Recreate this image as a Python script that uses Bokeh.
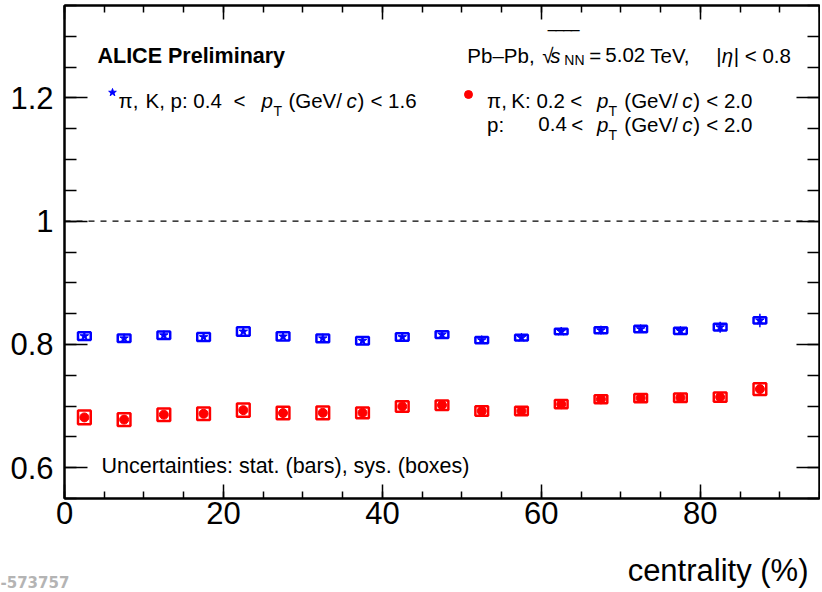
from bokeh.plotting import figure
from bokeh.models import (ColumnDataSource, Range1d, LinearAxis, FixedTicker, Span,
                          Label, Legend, LegendItem, Title)
from bokeh.embed import file_html
from bokeh.resources import INLINE

# ---------------- data ----------------
centrality = [2.5, 7.5, 12.5, 17.5, 22.5, 27.5, 32.5, 37.5, 42.5,
              47.5, 52.5, 57.5, 62.5, 67.5, 72.5, 77.5, 82.5, 87.5]

# pi, K, p : 0.4 < pT < 1.6
ratio_blue = [0.8135, 0.810, 0.815, 0.812, 0.821, 0.813, 0.810, 0.806, 0.812,
              0.816, 0.807, 0.811, 0.821, 0.823, 0.825, 0.822, 0.828, 0.839]
stat_blue = [0.002, 0.002, 0.002, 0.002, 0.002, 0.002, 0.002, 0.002, 0.003,
             0.003, 0.003, 0.003, 0.004, 0.007, 0.005, 0.005, 0.009, 0.011]
sys_blue = [0.0061, 0.0061, 0.0061, 0.0066, 0.0068, 0.0066, 0.0063, 0.0061, 0.0061,
            0.0055, 0.0050, 0.0047, 0.0045, 0.0050, 0.0052, 0.0050, 0.0055, 0.0050]

# pi, K : 0.2 < pT < 2.0 ; p : 0.4 < pT < 2.0
ratio_red = [0.6816, 0.678, 0.686, 0.6875, 0.6934, 0.6886, 0.689, 0.689, 0.6994,
             0.7015, 0.692, 0.692, 0.703, 0.711, 0.713, 0.7134, 0.7145, 0.7275]
stat_red = [0.003] * 18
sys_red = [0.0110, 0.0102, 0.0102, 0.0102, 0.0107, 0.0102, 0.0102, 0.0086, 0.0086,
           0.0077, 0.0077, 0.0069, 0.0067, 0.0064, 0.0067, 0.0069, 0.0077, 0.0096]

x_major_ticks = [0, 20, 40, 60, 80]
x_minor_ticks = [5 * i for i in range(20)]
y_major_ticks = [0.6, 0.8, 1, 1.2]
y_tick_labels = {0.6: "0.6", 0.8: "0.8", 1: "1", 1.2: "1.2"}
y_minor_ticks = [round(0.55 + 0.05 * i, 2) for i in range(17)]

BLUE = "#0000ff"
RED = "#ff0000"
FONT = "Liberation Sans"
BOX_W = 1.6

# ---------------- figure ----------------
W, H = 820, 590
BL, BR, BT, BB = 64, 1, 5, 92
X0, X1, Y0, Y1 = 0, 95, 0.55, 1.35

p = figure(width=W, height=H, x_range=Range1d(X0, X1), y_range=Range1d(Y0, Y1),
           output_backend="svg", toolbar_location=None,
           min_border_left=BL, min_border_right=BR, min_border_top=BT, min_border_bottom=BB,
           background_fill_color="white", border_fill_color="white")
p.xgrid.grid_line_color = None
p.ygrid.grid_line_color = None
p.outline_line_color = "black"
p.outline_line_width = 2

bottom_ax = p.below[0]
left_ax = p.left[0]
top_ax = LinearAxis()
right_ax = LinearAxis()
p.add_layout(top_ax, "above")
p.add_layout(right_ax, "right")

xt = FixedTicker(ticks=x_major_ticks, minor_ticks=x_minor_ticks)
yt = FixedTicker(ticks=y_major_ticks, minor_ticks=y_minor_ticks)


def style_axis(ax, ticker, major_in, minor_in, labels):
    ax.ticker = ticker
    ax.axis_line_color = "black"
    ax.axis_line_width = 2
    ax.major_tick_in = major_in
    ax.major_tick_out = 0
    ax.minor_tick_in = minor_in
    ax.minor_tick_out = 0
    ax.major_tick_line_color = "black"
    ax.minor_tick_line_color = "black"
    ax.major_tick_line_width = 1.5
    ax.minor_tick_line_width = 1.5
    if labels:
        ax.major_label_text_font = FONT
        ax.major_label_text_font_size = "31px"
        ax.major_label_text_color = "black"
    else:
        ax.major_label_text_font_size = "0px"
        ax.major_label_standoff = 0


style_axis(bottom_ax, xt, 14, 7, True)
style_axis(top_ax, xt, 14, 7, False)
style_axis(left_ax, yt, 23, 12, True)
style_axis(right_ax, yt, 23, 12, False)
bottom_ax.major_label_standoff = 3
left_ax.major_label_standoff = 11
left_ax.major_label_overrides = y_tick_labels
# blank spacer label that pushes the axis title band down
bottom_ax.axis_label = " "
bottom_ax.axis_label_text_font_size = "15px"
bottom_ax.axis_label_standoff = 4

# x-axis title (right aligned) and the watermark fragment in the same band
p.add_layout(Title(text="centrality (%)", align="right", offset=11, vertical_align="bottom",
                   text_font=FONT, text_font_size="31px", text_font_style="normal",
                   text_color="black", standoff=0), "below")
p.add_layout(Title(text="-573757", align="left", offset=-64, vertical_align="top",
                   text_font="DejaVu Sans", text_font_size="15px", text_font_style="bold",
                   text_color="#b4b4b4", standoff=-24), "below")

p.add_layout(Span(location=1, dimension="width", line_color="black",
                  line_dash="6 6", line_width=1.3))

# ---------------- data glyphs ----------------
def series(vals, stat, sys_):
    return ColumnDataSource(dict(
        x=centrality, y=vals,
        lo=[v - s for v, s in zip(vals, stat)],
        hi=[v + s for v, s in zip(vals, stat)],
        h=[2 * s for s in sys_]))


sb = series(ratio_blue, stat_blue, sys_blue)
sr = series(ratio_red, stat_red, sys_red)

p.rect(x="x", y="y", width=BOX_W, height="h", source=sb, fill_color=None,
       line_color=BLUE, line_width=2.5)
p.segment(x0="x", y0="lo", x1="x", y1="hi", source=sb, line_color=BLUE, line_width=1.5)
blue_pts = p.scatter(x="x", y="y", source=sb, marker="star", size=9,
                     fill_color=BLUE, line_color=BLUE)

p.rect(x="x", y="y", width=BOX_W, height="h", source=sr, fill_color=None,
       line_color=RED, line_width=2.5)
p.segment(x0="x", y0="lo", x1="x", y1="hi", source=sr, line_color=RED, line_width=1.5)
red_pts = p.scatter(x="x", y="y", source=sr, marker="circle", size=9,
                    fill_color=RED, line_color=RED)

# ---------------- legends (marker symbols) ----------------
FW = W - BL - BR
FH = H - BT - BB
G = 20  # legend glyph box -> marker size 0.4*G


def to_screen(x, y):
    return ((x - X0) / (X1 - X0) * FW, (y - Y0) / (Y1 - Y0) * FH)


def add_marker_legend(renderer, anchor):
    sx, sy = to_screen(*anchor)
    leg = Legend(items=[LegendItem(label=" ", renderers=[renderer])],
                 location=(sx - G / 2, sy - G / 2), padding=0, margin=0, spacing=0,
                 glyph_width=G, glyph_height=G, label_width=0, label_height=G,
                 label_standoff=0, label_text_font_size="1px",
                 background_fill_alpha=0, border_line_color=None)
    p.add_layout(leg)


add_marker_legend(blue_pts, (6.04, 1.209))
add_marker_legend(red_pts, (50.8, 1.205))

# ---------------- texts ----------------
def X(px):
    """reference-picture pixel column -> centrality units"""
    return (px - 64) / 7.95


def txt(x, y, s, size=21.5, style="normal", color="black", font=FONT, align="left"):
    p.add_layout(Label(x=x, y=y, text=s, text_font=font, text_font_size=f"{size}px",
                       text_font_style=style, text_color=color,
                       text_align=align, text_baseline="alphabetic"))


txt(X(97), 1.2685, "ALICE Preliminary", style="bold")

# Pb-Pb line
TY = 1.2693
TS = 20.5
txt(X(467), TY, "Pb\u2013Pb,", size=TS)
txt(X(542), TY, "\u221a", size=TS)
txt(X(548), 1.292, "\u203e\u203e\u203e\u203e", size=23)
txt(X(550), TY, "s", size=TS, style="italic")
txt(X(564), 1.2612, "NN", size=14)
txt(X(589), TY, "=", size=TS)
txt(X(605), TY, "5.02", size=TS)
txt(X(650), TY, "TeV,", size=TS)
txt(X(716), TY, "|", size=TS)
txt(X(721.5), TY, "\u03b7", size=TS, style="italic")
txt(X(733.5), TY, "| < 0.8", size=TS)

LS = 20.5  # legend text size
# blue legend text
BY, BYS = 1.1951, 1.1789
txt(X(118), BY, "\u03c0,", size=LS)
txt(X(145), BY, "K, p: 0.4", size=LS)
txt(X(233), BY, "<", size=LS)
txt(X(261), BY, "p", size=LS, style="italic")
txt(X(273), BYS, "T", size=14)
txt(X(288), BY, "(GeV/", size=LS)
txt(X(346), BY, "c", size=LS, style="italic")
txt(X(357), BY, ")", size=LS)
txt(X(370), BY, "< 1.6", size=LS)

# red legend text
R1, R1S = 1.1951, 1.1789
R2, R2S = 1.1573, 1.1395
txt(X(486.7), R1, "\u03c0,", size=LS)
txt(X(511), R1, "K: 0.2", size=LS)
txt(X(570), R1, "<", size=LS)
txt(X(486.7), R2, "p:", size=LS)
txt(X(538), R2, "0.4", size=LS)
txt(X(571), R2, "<", size=LS)
for ly, lys in ((R1, R1S), (R2, R2S)):
    txt(X(596.7), ly, "p", size=LS, style="italic")
    txt(X(608.3), lys, "T", size=14)
    txt(X(624), ly, "(GeV/", size=LS)
    txt(X(682), ly, "c", size=LS, style="italic")
    txt(X(693), ly, ")", size=LS)
    txt(X(706), ly, "< 2.0", size=LS)

txt(X(101), 0.6031, "Uncertainties: stat. (bars), sys. (boxes)")

open("out.html", "w").write(file_html(p, INLINE))
